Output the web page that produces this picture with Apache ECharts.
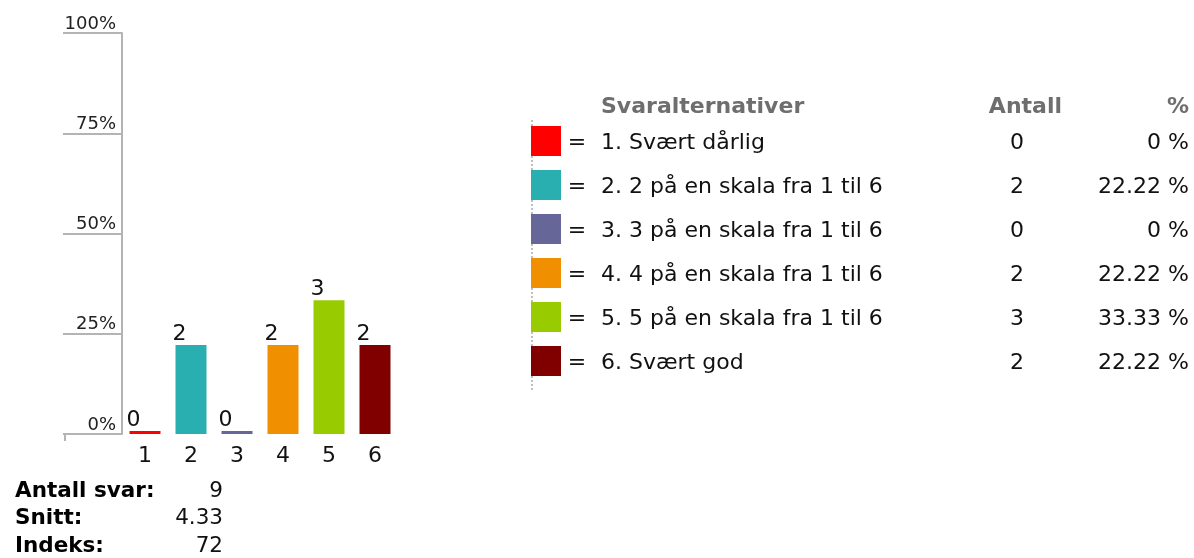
<!DOCTYPE html>
<html>
<head>
<meta charset="utf-8">
<script src="https://cdn.jsdelivr.net/npm/echarts@6/dist/echarts.min.js"></script>
<style>
  html, body { margin: 0; padding: 0; background: #fff; }
  #chart { width: 1194px; height: 558px; }
</style>
</head>
<body>
<div id="chart"></div>
<script>
// data
const categories = ['1', '2', '3', '4', '5', '6']
const answerNames = [
  '1. Svært dårlig',
  '2. 2 på en skala fra 1 til 6',
  '3. 3 på en skala fra 1 til 6',
  '4. 4 på en skala fra 1 til 6',
  '5. 5 på en skala fra 1 til 6',
  '6. Svært god'
]
const counts = [0, 2, 0, 2, 3, 2]
const percents = [0, 22.22, 0, 22.22, 33.33, 22.22]
const barColors = ['#ff0000', '#2aafb0', '#666699', '#f09000', '#99cc00', '#800000']
const statLabels = ['Antall svar:', 'Snitt:', 'Indeks:']
const statValues = ['9', '4.33', '72']
const tableHeaders = ['Svaralternativer', 'Antall', '%']

const FONT = "'DejaVu Sans', Verdana, sans-serif"
const AXIS_GRAY = '#b4b4b4'
const TXT = 22

let chart = echarts.init(document.getElementById('chart'))

// table + stats (text built from the arrays above)
let graphics = []
// dotted line left of the legend squares
graphics.push({
  type: 'line',
  shape: { x1: 532, y1: 120, x2: 532, y2: 390 },
  style: { stroke: '#c0c0c0', lineWidth: 2, lineDash: [2, 2] },
  z: 1
})
// small tick at the start of the base line
graphics.push({
  type: 'line',
  shape: { x1: 65, y1: 434, x2: 65, y2: 441 },
  style: { stroke: AXIS_GRAY, lineWidth: 2 }
})
const headerY = 107
const headerX = [601, 1062, 1189]
const headerAlign = ['left', 'right', 'right']
tableHeaders.forEach((h, i) => {
  graphics.push({
    type: 'text', x: headerX[i], y: headerY,
    style: { text: h, fill: '#6e6e6e', fontFamily: FONT, fontWeight: 'bold', fontSize: TXT, align: headerAlign[i], verticalAlign: 'middle' }
  })
})
answerNames.forEach((name, i) => {
  let cy = 141 + i * 44
  graphics.push({
    type: 'rect', shape: { x: 531, y: cy - 15, width: 30, height: 30 },
    style: { fill: barColors[i] }, z: 2
  })
  graphics.push({
    type: 'text', x: 577, y: cy + 2,
    style: { text: '=', fill: '#111', fontFamily: FONT, fontSize: TXT, align: 'center', verticalAlign: 'middle' }
  })
  graphics.push({
    type: 'text', x: 601, y: cy + 2,
    style: { text: name, fill: '#111', fontFamily: FONT, fontSize: TXT, align: 'left', verticalAlign: 'middle' }
  })
  graphics.push({
    type: 'text', x: 1017, y: cy + 2,
    style: { text: String(counts[i]), fill: '#111', fontFamily: FONT, fontSize: TXT, align: 'center', verticalAlign: 'middle' }
  })
  graphics.push({
    type: 'text', x: 1189, y: cy + 2,
    style: { text: percents[i] + ' %', fill: '#111', fontFamily: FONT, fontSize: TXT, align: 'right', verticalAlign: 'middle' }
  })
})
statLabels.forEach((lab, i) => {
  let cy = 491 + i * 27.5
  graphics.push({
    type: 'text', x: 15, y: cy,
    style: { text: lab, fill: '#000', fontFamily: FONT, fontWeight: 'bold', fontSize: 21.5, align: 'left', verticalAlign: 'middle' }
  })
  graphics.push({
    type: 'text', x: 223, y: cy,
    style: { text: statValues[i], fill: '#111', fontFamily: FONT, fontSize: 21.5, align: 'right', verticalAlign: 'middle' }
  })
})

chart.setOption({
  animation: false,
  backgroundColor: '#fff',
  grid: {
    left: 122,
    right: 1194 - 398,
    top: 33,
    bottom: 558 - 434
  },
  xAxis: {
    type: 'category',
    data: categories,
    axisLine: { show: false },
    axisTick: { show: false },
    axisLabel: { color: '#111', fontFamily: FONT, fontSize: TXT, margin: 11 }
  },
  yAxis: {
    type: 'value',
    min: 0,
    max: 100,
    interval: 25,
    splitLine: { show: false },
    axisLine: { show: true, lineStyle: { color: AXIS_GRAY, width: 2 } },
    axisTick: { show: true, length: 59, lineStyle: { color: AXIS_GRAY, width: 2 } },
    axisLabel: {
      formatter: '{value}%',
      color: '#222',
      fontFamily: FONT,
      fontSize: 18,
      margin: 6,
      verticalAlign: 'bottom',
      padding: [0, 0, 0, 0]
    }
  },
  series: [{
    type: 'bar',
    barWidth: 31,
    barMinHeight: 3,
    data: percents.map((v, i) => ({ value: v, itemStyle: { color: barColors[i] } })),
    label: {
      show: true,
      position: [-3, 0],
      align: 'left',
      verticalAlign: 'bottom',
      color: '#111',
      fontFamily: FONT,
      fontSize: TXT,
      formatter: p => String(counts[p.dataIndex])
    }
  }],
  graphic: graphics
})
</script>
</body>
</html>
